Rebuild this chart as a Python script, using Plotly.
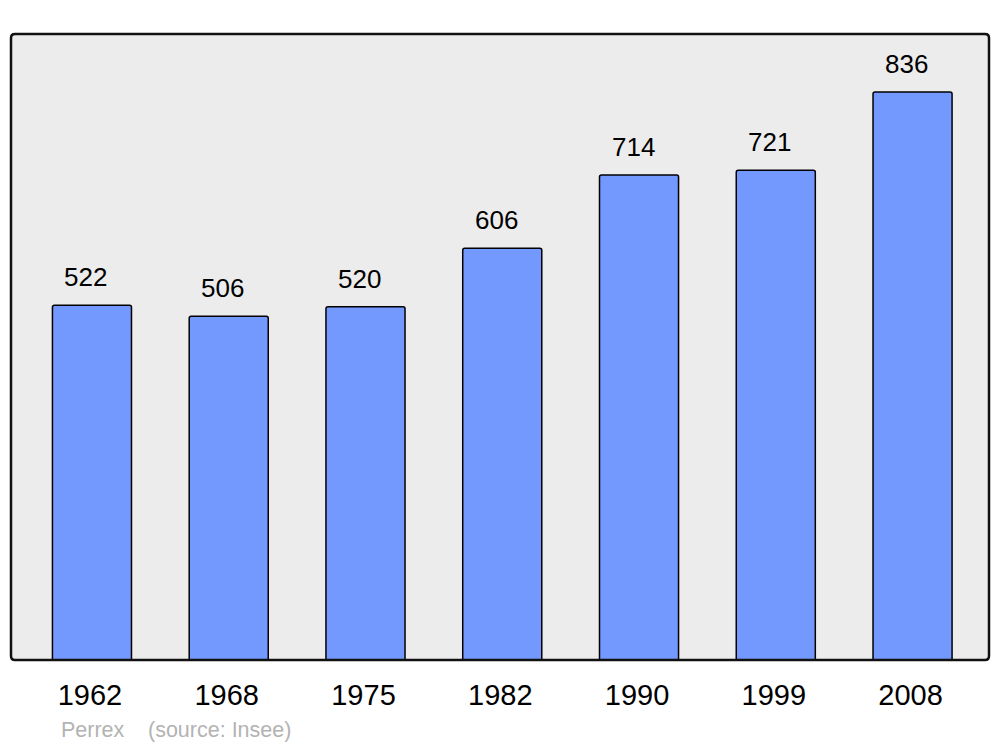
import plotly.graph_objects as go

years = ["1962", "1968", "1975", "1982", "1990", "1999", "2008"]
population = [522, 506, 520, 606, 714, 721, 836]
place = "Perrex"
source = "(source: Insee)"

W, H = 1000, 747
L, R, T, B = 11, 11, 34, 87
pw, ph = W - L - R, H - T - B
step = 136.75  # px per category
bw = 0.578
shift = 2 / step  # tick labels sit ~2px left of bar centres

fig = go.Figure()
fig.add_trace(go.Bar(
    x=years, y=population, width=bw, offset=-bw / 2 + shift,
    marker=dict(color="#7399ff", line=dict(color="black", width=1.5)),
    hoverinfo="skip",
))

for i, v in enumerate(population):
    fig.add_annotation(x=i, y=v, xref="x", yref="y", text=str(v), showarrow=False,
                       xanchor="center", yanchor="bottom", yshift=11, xshift=-4,
                       font=dict(family="Liberation Sans, Arial", size=26, color="black"))

# rounded frame
rx, ry = 4 / pw, 4 / ph
path = (f"M {rx},0 L {1-rx},0 Q 1,0 1,{ry} L 1,{1-ry} Q 1,1 {1-rx},1 "
        f"L {rx},1 Q 0,1 0,{1-ry} L 0,{ry} Q 0,0 {rx},0 Z")
fig.add_shape(type="path", path=path, xref="paper", yref="paper",
              line=dict(color="#111111", width=2.5), layer="above")

src_y = -70 / ph
fig.add_annotation(x=48 / pw, y=src_y, xref="paper", yref="paper",
                   text=place, showarrow=False, xanchor="left", yanchor="middle",
                   font=dict(family="Liberation Sans, Arial", size=21.5, color="#b3b3b3"))
fig.add_annotation(x=135 / pw, y=src_y, xref="paper", yref="paper",
                   text=source, showarrow=False, xanchor="left", yanchor="middle",
                   font=dict(family="Liberation Sans, Arial", size=21.5, color="#b3b3b3"))

fig.update_layout(
    width=W, height=H,
    margin=dict(l=L, r=R, t=T, b=B, pad=0),
    paper_bgcolor="white", plot_bgcolor="#ececec",
    barcornerradius=2,
    showlegend=False,
    hovermode=False,
    xaxis=dict(type="category", range=[-0.592 + shift, 6.559 + shift], showgrid=False,
               zeroline=False, showline=False, ticks="outside", ticklen=9,
               tickcolor="rgba(0,0,0,0)",
               tickfont=dict(family="Liberation Sans, Arial", size=29, color="black"),
               fixedrange=True),
    yaxis=dict(range=[0, 921.4], visible=False, showgrid=False, zeroline=False, fixedrange=True),
)

fig.write_html("out.html",
               config={"displayModeBar": False, "staticPlot": True},
               post_script="document.body.style.margin='0';document.body.style.overflow='hidden';")
